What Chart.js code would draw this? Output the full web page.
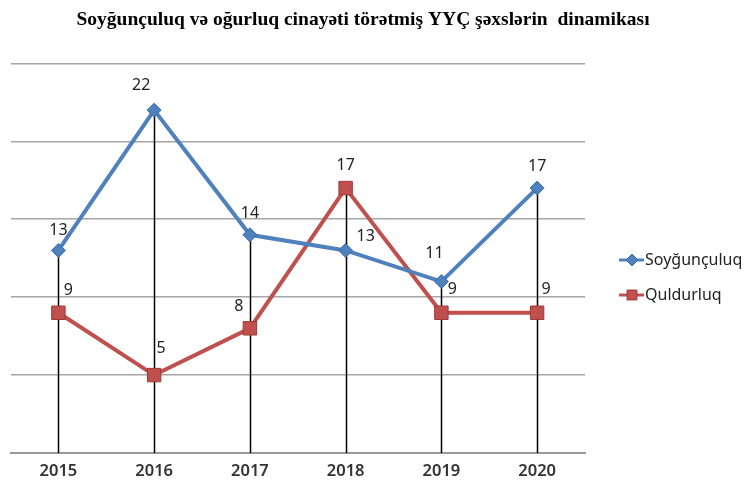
<!DOCTYPE html>
<html>
<head>
<meta charset="utf-8">
<script src="https://cdn.jsdelivr.net/npm/chart.js@4/dist/chart.umd.min.js"></script>
<style>
  html, body { margin: 0; padding: 0; background: #fff; }
  #wrap { width: 748px; height: 483px; }
</style>
</head>
<body>
<div id="wrap"><canvas id="myChart" width="748" height="483"></canvas></div>
<script>
// data block
const years = ['2015', '2016', '2017', '2018', '2019', '2020'];
const soygunculuq = [13, 22, 14, 13, 11, 17];
const quldurluq = [9, 5, 8, 17, 9, 9];
const yTicks = [0, 5, 10, 15, 20, 25];

const blue = '#4F81BD';
const red = '#C0504D';

// where each value label sits relative to its point (dx, dy)
const labelOffsets = [
    [[0, -20], [-13, -25], [0, -21], [20, -14], [-7, -28], [0, -22]],
    [[10, -22], [7, -27], [-11, -22], [0, -23], [11, -23], [9, -23]]
];

const data = {
    labels: years,
    datasets: [{
        label: 'Soyğunçuluq',
        data: soygunculuq,
        borderColor: blue,
        backgroundColor: blue,
        borderWidth: 4,
        pointStyle: 'rectRot',
        pointRadius: 7,
        pointBorderWidth: 1,
        pointBorderColor: '#3C6DA8',
        pointBackgroundColor: blue,
        tension: 0
    }, {
        label: 'Quldurluq',
        data: quldurluq,
        borderColor: red,
        backgroundColor: red,
        borderWidth: 4,
        pointStyle: 'rect',
        pointRadius: 9.5,
        pointBorderWidth: 1,
        pointBorderColor: '#9E3A38',
        pointBackgroundColor: red,
        tension: 0
    }]
};

// black drop lines from the top point of each year down to the axis
const dropLines = {
    id: 'dropLines',
    beforeDatasetsDraw(chart) {
        const {ctx, scales: {x, y}} = chart;
        ctx.save();
        ctx.strokeStyle = '#000';
        ctx.lineWidth = 1.5;
        years.forEach((yr, i) => {
            const top = Math.max(...chart.data.datasets.map(d => d.data[i]));
            const px = Math.round(x.getPixelForValue(i)) + 0.5;
            ctx.beginPath();
            ctx.moveTo(px, y.getPixelForValue(top));
            ctx.lineTo(px, y.bottom);
            ctx.stroke();
        });
        ctx.restore();
    }
};

const valueLabels = {
    id: 'valueLabels',
    afterDatasetsDraw(chart) {
        const {ctx} = chart;
        ctx.save();
        ctx.font = '16px "Noto Sans"';
        ctx.fillStyle = '#222';
        ctx.textAlign = 'center';
        ctx.textBaseline = 'middle';
        chart.data.datasets.forEach((ds, di) => {
            chart.getDatasetMeta(di).data.forEach((pt, i) => {
                const [dx, dy] = labelOffsets[di][i];
                ctx.fillText(ds.data[i], pt.x + dx, pt.y + dy);
            });
        });
        ctx.restore();
    }
};

const sideLegend = {
    id: 'sideLegend',
    afterDraw(chart) {
        const {ctx} = chart;
        const items = [
            {ds: chart.data.datasets[0], y: 260, r: 6},
            {ds: chart.data.datasets[1], y: 295, r: 7}
        ];
        ctx.save();
        ctx.font = '16px "Noto Sans"';
        ctx.textBaseline = 'middle';
        items.forEach(it => {
            ctx.strokeStyle = it.ds.borderColor;
            ctx.lineWidth = 3;
            ctx.beginPath();
            ctx.moveTo(619, it.y);
            ctx.lineTo(644, it.y);
            ctx.stroke();
            ctx.fillStyle = it.ds.pointBackgroundColor;
            ctx.strokeStyle = it.ds.pointBorderColor;
            ctx.lineWidth = 1;
            Chart.helpers.drawPoint(ctx, {
                pointStyle: it.ds.pointStyle,
                radius: it.r,
                borderWidth: 1
            }, 632, it.y);
            ctx.fillStyle = '#222';
            ctx.fillText(it.ds.label, 645, it.y);
        });
        ctx.restore();
    }
};

// config block
const config = {
    type: 'line',
    data: data,
    options: {
        responsive: false,
        animation: false,
        layout: {
            padding: {left: 10, right: 32, top: 0, bottom: 0}
        },
        scales: {
            x: {
                offset: true,
                grid: {display: false, drawTicks: false},
                border: {color: '#9a9a9a', width: 2},
                ticks: {
                    padding: 8,
                    color: '#333',
                    font: {family: 'Noto Sans', size: 16.5, weight: '600'}
                },
                afterFit: scale => {
                    scale.height = 30;
                }
            },
            y: {
                min: 0,
                max: 25,
                afterBuildTicks: axis => {
                    axis.ticks = yTicks.map(v => ({value: v}));
                },
                ticks: {display: false},
                border: {display: false},
                grid: {color: '#a6a6a6', lineWidth: 1.5, drawTicks: false}
            },
            side: {
                type: 'linear',
                position: 'right',
                display: true,
                ticks: {display: false},
                border: {display: false},
                grid: {display: false, drawTicks: false},
                afterFit: scale => {
                    scale.width = 131;
                }
            }
        },
        plugins: {
            legend: {display: false},
            tooltip: {enabled: false},
            title: {
                display: true,
                text: 'Soyğunçuluq və oğurluq cinayəti törətmiş YYÇ şəxslərin  dinamikası',
                color: '#000',
                font: {family: 'Liberation Serif', size: 19.5, weight: 'bold'},
                padding: {top: 8, bottom: 32}
            }
        }
    },
    plugins: [dropLines, valueLabels, sideLegend]
};

// init render block
const myChart = new Chart(
    document.getElementById('myChart'),
    config
);
</script>
</body>
</html>
